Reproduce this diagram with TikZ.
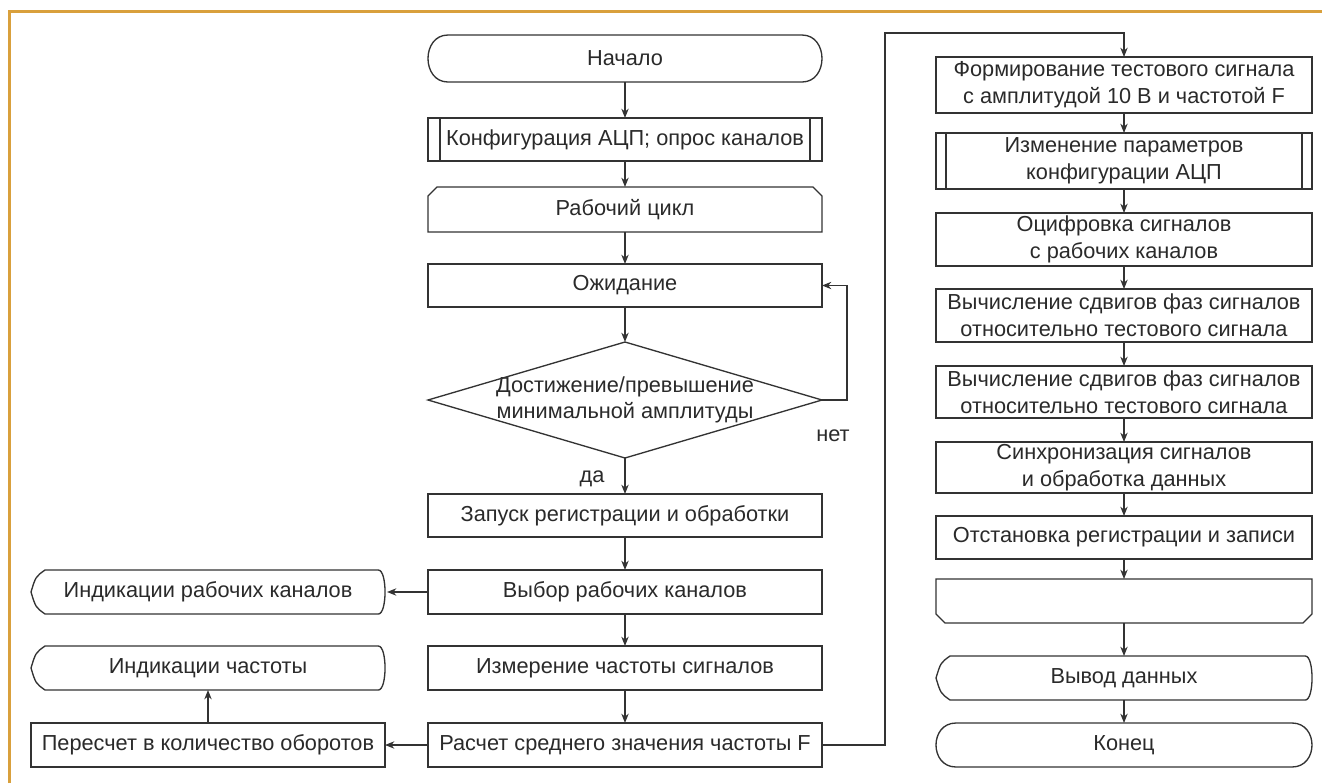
\documentclass[tikz,border=0pt]{standalone}
\usepackage{fontspec}
\setmainfont{Liberation Sans}
\usetikzlibrary{arrows.meta}
\definecolor{lc}{HTML}{333333}
\definecolor{tc}{HTML}{2A2A2A}
\definecolor{framecol}{HTML}{D9A03C}
\tikzset{
  ln/.style={draw=lc, line width=1pt},
  box/.style 2 args={rectangle, inner sep=0pt, outer sep=0pt, minimum width={#1*0.75pt}, minimum height={#2*0.75pt}, align=center, text=tc, font=\fontsize{16.3}{20}\selectfont},
  rbox/.style 2 args={box={#1}{#2}, ln},
  arr/.style={ln, -{Stealth[length=7pt,width=5.5pt]}},
  lbl/.style={text=tc, font=\fontsize{16.3}{20}\selectfont, inner sep=0pt},
}
\newcommand\drawterm[1]{%
  \draw[ln] ([xshift=15pt]#1.north west) -- ([xshift=-15pt]#1.north east)
    .. controls ([xshift=5pt]#1.north east) and ([xshift=5pt]#1.south east) .. ([xshift=-15pt]#1.south east)
    -- ([xshift=15pt]#1.south west)
    .. controls ([xshift=-5pt]#1.south west) and ([xshift=-5pt]#1.north west) .. ([xshift=15pt]#1.north west) -- cycle;}
\newcommand\drawdisp[1]{%
  \draw[ln] ([xshift=10.5pt]#1.north west) -- ([xshift=-5pt]#1.north east)
    .. controls ([xshift=1.7pt]#1.north east) and ([xshift=1.7pt]#1.south east) .. ([xshift=-5pt]#1.south east)
    -- ([xshift=10.5pt]#1.south west)
    .. controls ([xshift=3.5pt,yshift=5pt]#1.south west) .. (#1.west)
    .. controls ([xshift=3.5pt,yshift=-5pt]#1.north west) .. ([xshift=10.5pt]#1.north west) -- cycle;}
\newcommand\drawlooptop[1]{%
  \draw[ln] (#1.south west) -- ([yshift=-6.75pt]#1.north west) -- ([xshift=6.75pt]#1.north west)
    -- ([xshift=-6.75pt]#1.north east) -- ([yshift=-6.75pt]#1.north east) -- (#1.south east) -- cycle;}
\newcommand\drawloopend[1]{%
  \draw[ln] (#1.north west) -- ([yshift=6.75pt]#1.south west) -- ([xshift=6.75pt]#1.south west)
    -- ([xshift=-6.75pt]#1.south east) -- ([yshift=6.75pt]#1.south east) -- (#1.north east) -- cycle;}
\newcommand\drawpredef[2]{%
  \draw[ln] (#1.north west) rectangle (#1.south east);
  \draw[ln] ([xshift=#2]#1.north west) -- ([xshift=#2]#1.south west);
  \draw[ln] ([xshift=-#2]#1.north east) -- ([xshift=-#2]#1.south east);}

\begin{document}
\begin{tikzpicture}[x=0.75pt,y=-0.75pt]
\useasboundingbox (0,0) rectangle (1322,783);
\fill[white] (0,0) rectangle (1322,783);
\draw[framecol, line width=2.25pt] (9,783) -- (9,11) -- (1322,11);

% centre column
\node[box={394}{47}] (start) at (625,58.5) {Начало};
\drawterm{start}
\node[box={394}{43}] (cfg) at (625,139.5) {Конфигурация АЦП; опрос каналов};
\drawpredef{cfg}{9pt}
\node[box={394}{45}] (loop) at (625,209.5) {Рабочий цикл};
\drawlooptop{loop}
\node[rbox={394}{43}] (wait) at (625,285.5) {Ожидание};
\node[box={394}{116}] (dia) at (625,400) {Достижение/превышение\\минимальной амплитуды};
\draw[ln] (dia.north) -- (dia.east) -- (dia.south) -- (dia.west) -- cycle;
\node[rbox={394}{43}] (launch) at (625,515.5) {Запуск регистрации и обработки};
\node[rbox={394}{44}] (select) at (625,592) {Выбор рабочих каналов};
\node[rbox={394}{44}] (measure) at (625,668) {Измерение частоты сигналов};
\node[rbox={394}{44}] (calc) at (625,745) {Расчет среднего значения частоты F};

\node[lbl] (no) at (833,436) {нет};
\node[lbl] (yes) at (592,479) {да};

% left column
\node[box={354}{44}] (ind1) at (208,592) {Индикации рабочих каналов};
\drawdisp{ind1}
\node[box={354}{44}] (ind2) at (208,668) {Индикации частоты};
\drawdisp{ind2}
\node[rbox={354}{44}] (recalc) at (208,745) {Пересчет в количество оборотов};

% right column
\node[rbox={376}{56}] (form) at (1124,85) {Формирование тестового сигнала\\с амплитудой 10 В и частотой F};
\node[box={376}{56}] (change) at (1124,161) {Изменение параметров\\конфигурации АЦП};
\drawpredef{change}{7.5pt}
\node[rbox={376}{53}] (digit) at (1124,239.5) {Оцифровка сигналов\\с рабочих каналов};
\node[rbox={376}{53}] (phase1) at (1124,315.5) {Вычисление сдвигов фаз сигналов\\относительно тестового сигнала};
\node[rbox={376}{52}] (phase2) at (1124,392) {Вычисление сдвигов фаз сигналов\\относительно тестового сигнала};
\node[rbox={376}{51}] (sync) at (1124,467.5) {Синхронизация сигналов\\и обработка данных};
\node[rbox={376}{43}] (stop) at (1124,537.5) {Отстановка регистрации и записи};
\node[box={376}{44}] (lend) at (1124,601) {};
\drawloopend{lend}
\node[box={376}{44}] (out) at (1124,678) {Вывод данных};
\drawdisp{out}
\node[box={376}{44}] (fin) at (1124,745) {Конец};
\drawterm{fin}

% connectors centre
\draw[arr] (start) -- (cfg);
\draw[arr] (cfg) -- (loop);
\draw[arr] (loop) -- (wait);
\draw[arr] (wait) -- (dia);
\coordinate (nr) at (847,400);
\draw[arr] (dia.east) -- (nr) |- (wait.east);
\draw[arr] (dia.south) -- (launch.north);
\draw[arr] (launch) -- (select);
\draw[arr] (select) -- (measure);
\draw[arr] (measure) -- (calc);

% connectors left
\draw[arr] (select.west) -- ([xshift=1.5pt]ind1.east);
\draw[arr] (calc.west) -- (recalc.east);
\draw[arr] (recalc.north) -- (ind2.south);

% connector to right column
\coordinate (jt) at (885,33);
\draw[arr] (calc.east) -| (jt) -| (form.north);

% connectors right
\draw[arr] (form) -- (change);
\draw[arr] (change) -- (digit);
\draw[arr] (digit) -- (phase1);
\draw[arr] (phase1) -- (phase2);
\draw[arr] (phase2) -- (sync);
\draw[arr] (sync) -- (stop);
\draw[arr] (stop) -- (lend);
\draw[arr] (lend) -- (out);
\draw[arr] (out) -- (fin);
\end{tikzpicture}
\end{document}
